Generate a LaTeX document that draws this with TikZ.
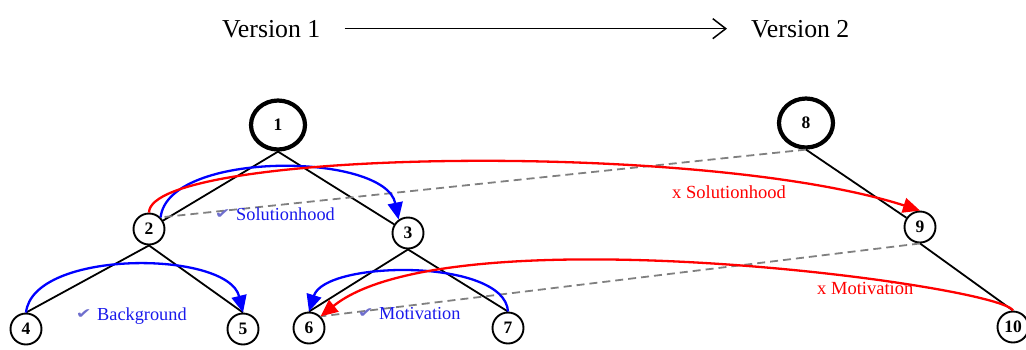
\documentclass[tikz,border=0pt]{standalone}
\usepackage{fontspec}
\setmainfont{Liberation Serif}
\newfontfamily\symfont{DejaVu Sans}
\usetikzlibrary{arrows.meta,shapes.geometric}
\definecolor{chk}{RGB}{110,110,205}
\definecolor{lblue}{RGB}{25,25,235}
\definecolor{dgray}{RGB}{128,128,128}
\begin{document}
\begin{tikzpicture}[x=1pt,y=-1pt,
  smallnode/.style={circle,draw,line width=1.9pt,minimum size=31pt,inner sep=0pt,font=\fontsize{17.5}{17}\selectfont\bfseries},
  bignode/.style={ellipse,draw,line width=4.2pt,minimum width=54pt,minimum height=49pt,inner sep=0pt,font=\fontsize{17.5}{17}\selectfont\bfseries},
  treeedge/.style={line width=1.8pt},
  dashlink/.style={draw=dgray,line width=1.8pt,dash pattern=on 8pt off 5pt},
  bluearc/.style={draw=blue,line width=2.3pt,-{Triangle[length=17pt,width=15pt]}},
  redarc/.style={draw=red,line width=2.3pt,-{Triangle[length=17pt,width=15pt]}},
  vtext/.style={inner sep=0pt,font=\fontsize{25.8}{26}\selectfont},
  bluelbl/.style={inner sep=0pt,anchor=base west,text=lblue,font=\fontsize{18.3}{19}\selectfont},
  redlbl/.style={inner sep=0pt,anchor=base west,text=red,font=\fontsize{18.5}{19}\selectfont},
  chkmark/.style={inner sep=0pt,anchor=base east,text=chk,font=\symfont\fontsize{14}{14}\selectfont}
]
\useasboundingbox (0,0) rectangle (1026,349);

% header
\node[vtext,anchor=base west] (v1) at (222,37) {Version 1};
\node[vtext,anchor=base west] (v2) at (751,37) {Version 2};
\draw[line width=1.5pt,-{Straight Barb[length=13pt,width=20pt,line width=1.5pt]},shorten <=24pt,shorten >=24pt] (v1.east) -- (v2.west);

% nodes
\node[bignode] (n1) at (278,125) {1};
\node[bignode] (n8) at (806,123) {8};
\node[smallnode] (n2) at (149,229) {2};
\node[smallnode] (n3) at (408,233) {3};
\node[smallnode] (n9) at (920,227) {9};
\node[smallnode] (n4) at (26,329) {4};
\node[smallnode] (n5) at (243,329) {5};
\node[smallnode] (n6) at (309,328) {6};
\node[smallnode] (n7) at (508,328) {7};
\node[smallnode] (n10) at (1013,327) {10};

% tree edges
\draw[treeedge] (n1.south) -- (n2);
\draw[treeedge] (n1.south) -- (n3);
\draw[treeedge] (n2.south) -- (n4.north);
\draw[treeedge] (n2.south) -- (n5.north);
\draw[treeedge] (n3.south) -- (n6.north);
\draw[treeedge] (n3.south) -- (n7.north);
\draw[treeedge] (n8.south) -- (n9);
\draw[treeedge] (n9.south) -- (n10.north);

% dashed correspondences
\draw[dashlink] (n8.south) -- (n2.north east);
\draw[dashlink] (n9.south) -- (n6.north east);

% blue arcs
\draw[bluearc] (n2.north east) .. controls (168,150) and (385,152) .. (n3.125);
\draw[bluearc] (n4.north) .. controls (33,249) and (228,250) .. (n5.north);
\draw[bluearc] (n7.north) .. controls (505,258) and (325,260) .. (n6.north);

% red arcs
\draw[redarc] (n2.north) .. controls (150,150) and (700,140) .. (n9.north);
\draw[redarc] (n10.north) .. controls (1000,285) and (450,212) .. (n6.north east);

% labels
\node[bluelbl] (l1) at (236,220) {Solutionhood};
\node[chkmark] (c1) at (231,218) {\scalebox{1.35}[1]{✔}};
\node[bluelbl] (l2) at (97,320) {Background};
\node[chkmark] (c2) at (92,318) {\scalebox{1.35}[1]{✔}};
\node[bluelbl] (l3) at (379,319) {Motivation};
\node[chkmark] (c3) at (374,317) {\scalebox{1.35}[1]{✔}};
\node[redlbl] (r1) at (672,198) {x Solutionhood};
\node[redlbl] (r2) at (817,294) {x Motivation};
\end{tikzpicture}
\end{document}
